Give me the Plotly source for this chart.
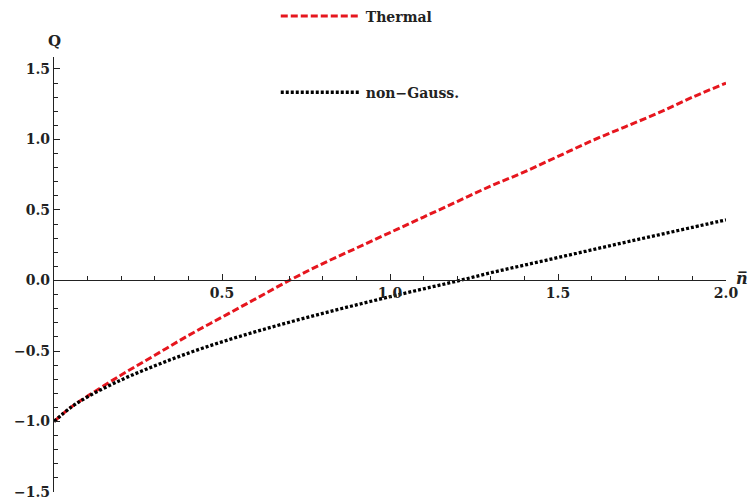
import plotly.graph_objects as go

# data
n_vals = [0.0, 0.05, 0.1, 0.2, 0.3, 0.4, 0.5, 0.6, 0.7, 0.8, 0.9, 1.0,
          1.1, 1.2, 1.3, 1.4, 1.5, 1.6, 1.7, 1.8, 1.9, 2.0]
q_thermal = [-1.0, -0.90, -0.82, -0.67, -0.53, -0.39, -0.26, -0.13, 0.0, 0.12,
             0.23, 0.34, 0.45, 0.56, 0.67, 0.77, 0.88, 0.99, 1.09, 1.19, 1.30, 1.40]
q_nongauss = [-1.0, -0.90, -0.825, -0.705, -0.605, -0.515, -0.435, -0.363, -0.296, -0.233,
              -0.173, -0.115, -0.059, -0.004, 0.055, 0.109, 0.163, 0.217, 0.271, 0.324, 0.377, 0.43]
x_ticks = [0.5, 1.0, 1.5, 2.0]
y_ticks = [-1.5, -1.0, -0.5, 0.0, 0.5, 1.0, 1.5]

y_range = [-1.5, 1.585]
x_pos = (0 - y_range[0]) / (y_range[1] - y_range[0])

font_family = "DejaVu Serif"
tickfont = dict(family=font_family, size=14, color="#222", weight="bold")
legfont = dict(family=font_family, size=14, color="#222", weight="bold")

fig = go.Figure()
fig.add_trace(go.Scatter(
    x=n_vals, y=q_thermal, mode="lines", name="Thermal", line_shape="spline",
    legendgroup="a",
    line=dict(color="rgb(230,22,30)", width=3, dash="7px,3px")))
fig.add_trace(go.Scatter(
    x=n_vals, y=q_nongauss, mode="lines", name="non\u2212Gauss.", line_shape="spline",
    legendgroup="b",
    line=dict(color="black", width=3.3, dash="3px,2px")))

fig.update_layout(
    width=748, height=502,
    margin=dict(l=54, r=22, t=57, b=10, autoexpand=False),
    plot_bgcolor="white", paper_bgcolor="white",
    xaxis=dict(range=[0, 2.0], anchor="free", position=x_pos, showgrid=False,
               automargin=False,
               zeroline=False, showline=True, linecolor="#222", linewidth=1.3,
               ticks="inside", ticklen=6, tickwidth=1.2, tickcolor="#222",
               tickvals=x_ticks, ticktext=[f"{v:.1f}" for v in x_ticks],
               tickfont=tickfont,
               minor=dict(dtick=0.1, tick0=0, ticks="inside", ticklen=4,
                          tickwidth=1, tickcolor="#222")),
    yaxis=dict(range=y_range, showgrid=False, zeroline=False, showline=True,
               automargin=False,
               linecolor="#222", linewidth=1.3,
               ticks="inside", ticklen=6, tickwidth=1.2, tickcolor="#222",
               tickvals=y_ticks, ticktext=[f"{v:.1f}".replace("-", "\u2212") for v in y_ticks],
               tickfont=tickfont,
               minor=dict(dtick=0.1, tick0=0, ticks="inside", ticklen=4,
                          tickwidth=1, tickcolor="#222")),
    showlegend=True,
    legend=dict(x=0.330, y=1.130, xanchor="left", yanchor="top",
                bgcolor="rgba(0,0,0,0)", itemwidth=80, font=legfont,
                tracegroupgap=55, traceorder="grouped"),
    annotations=[
        dict(x=0, y=1.0, xref="x", yref="paper", text="<b>Q</b>", showarrow=False,
             xanchor="center", yanchor="bottom", yshift=5,
             font=dict(family=font_family, size=15, color="#222")),
        dict(x=2.0, y=0, xref="x", yref="y", text="<b><i>n\u0305</i></b>", showarrow=False,
             xanchor="center", yanchor="middle", xshift=16, yshift=2,
             font=dict(family=font_family, size=16, color="#222")),
    ],
)

fig.write_html("out.html", config={"displayModeBar": False},
               post_script="document.body.style.margin='0';document.body.style.overflow='hidden';")
